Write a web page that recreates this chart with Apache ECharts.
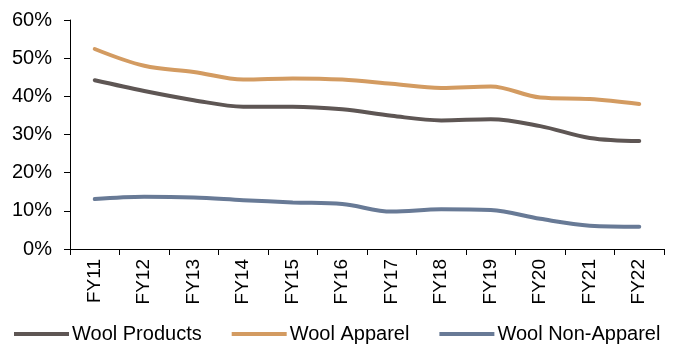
<!DOCTYPE html>
<html>
<head>
<meta charset="utf-8">
<script src="https://cdn.jsdelivr.net/npm/echarts@6/dist/echarts.min.js"></script>
<style>
  html, body { margin: 0; padding: 0; background: #fff; }
  #chart { width: 673px; height: 345px; }
</style>
</head>
<body>
<div id="chart"></div>
<script>
// Fiscal years on the category axis
const years = ['FY11', 'FY12', 'FY13', 'FY14', 'FY15', 'FY16', 'FY17', 'FY18', 'FY19', 'FY20', 'FY21', 'FY22'];

// Shares (%) by product group
const woolProducts    = [44.2, 41.4, 39.0, 37.3, 37.3, 36.6, 34.9, 33.7, 34.0, 32.2, 29.1, 28.3];
const woolApparel     = [52.4, 48.0, 46.4, 44.4, 44.7, 44.4, 43.3, 42.2, 42.6, 39.7, 39.3, 38.0];
const woolNonApparel  = [13.1, 13.7, 13.5, 12.8, 12.2, 11.8,  9.8, 10.4, 10.2,  7.9,  6.1,  5.8];

// Value-axis ticks
const yTicks = [0, 10, 20, 30, 40, 50, 60];

const colors = ['#5e5654', '#d39b61', '#687a96'];
const font = 'Liberation Sans, Arial, sans-serif';

const chart = echarts.init(document.getElementById('chart'), null, { renderer: 'canvas' });

function lineSeries(name, data, color) {
  return {
    name: name,
    type: 'line',
    data: data,
    smooth: 0.35,
    symbol: 'none',
    lineStyle: { width: 4, color: color, cap: 'round' },
    itemStyle: { color: color }
  };
}

chart.setOption({
  animation: false,
  backgroundColor: '#ffffff',
  grid: { left: 70, right: 9, top: 20, bottom: 96, containLabel: false },
  legend: {
    bottom: 0,
    left: 14,
    width: 670,
    padding: [5, 0, 1, 0],
    itemWidth: 55,
    itemHeight: 4,
    itemGap: 30,
    icon: 'rect',
    textStyle: { fontFamily: font, fontSize: 20, color: '#000', padding: [0, 0, 0, -2] },
    data: ['Wool Products', 'Wool Apparel', 'Wool Non-Apparel']
  },
  xAxis: {
    type: 'category',
    data: years,
    boundaryGap: true,
    axisLine: { lineStyle: { color: '#000', width: 1 } },
    axisTick: { show: true, length: 6, lineStyle: { color: '#000' } },
    axisLabel: { rotate: 90, fontFamily: font, fontSize: 19, color: '#000', margin: 10 }
  },
  yAxis: {
    type: 'value',
    min: yTicks[0],
    max: yTicks[yTicks.length - 1],
    interval: yTicks[1] - yTicks[0],
    splitLine: { show: false },
    axisLine: { show: true, lineStyle: { color: '#000', width: 1 } },
    axisTick: { show: true, length: 6, lineStyle: { color: '#000' } },
    axisLabel: { fontFamily: font, fontSize: 20, color: '#000', margin: 18, formatter: '{value}%' }
  },
  series: [
    lineSeries('Wool Products', woolProducts, colors[0]),
    lineSeries('Wool Apparel', woolApparel, colors[1]),
    lineSeries('Wool Non-Apparel', woolNonApparel, colors[2])
  ]
});
</script>
</body>
</html>
